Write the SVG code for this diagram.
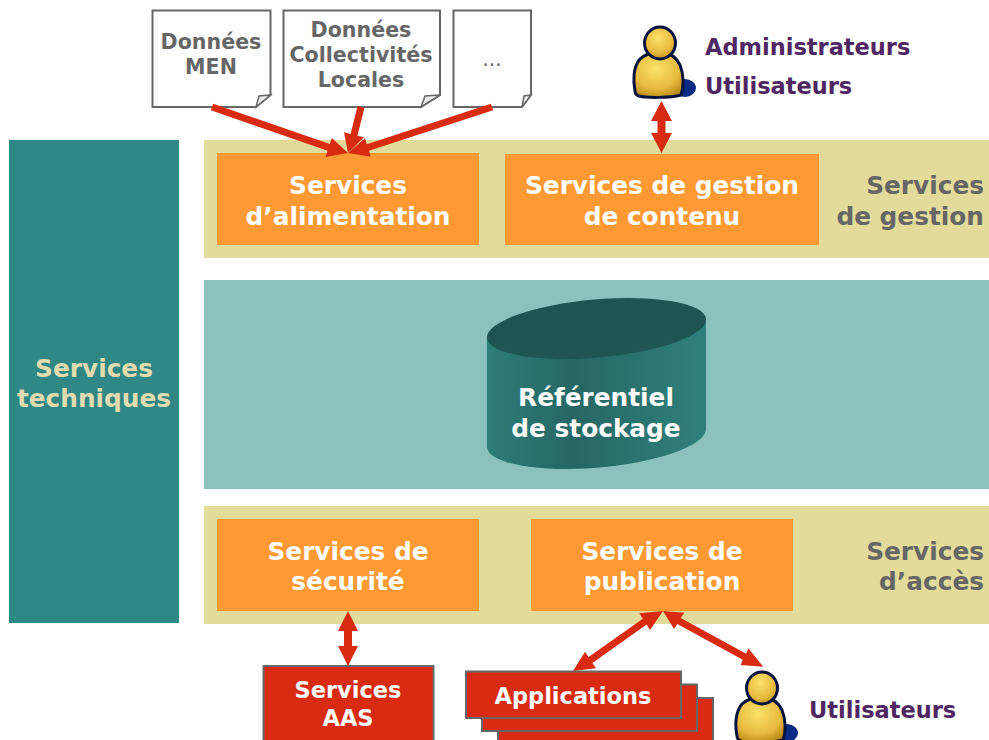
<svg xmlns="http://www.w3.org/2000/svg" width="989" height="740" viewBox="0 0 989 740">
<style>
text{font-family:"DejaVu Sans","Liberation Sans",sans-serif;font-weight:bold;text-anchor:middle}
.band{fill:#e3db99}.or{fill:#ff9933}
.w{font-size:24.800px;fill:#fff}
.g{font-size:24.800px;fill:#666}
.d{font-size:20.600px;fill:#666}
.p{font-size:22.500px;fill:#4f2763;text-anchor:start}
.r{fill:#d92b12;stroke:#666;stroke-width:2}
.wr{font-size:22.500px;fill:#fff}
.doc{fill:#fff;stroke:#666;stroke-width:2;stroke-linejoin:miter}
.fold{fill:#eee;stroke:#666;stroke-width:1.500}
.arrow{fill:#d92b12}
</style>
<defs>
<linearGradient id="cyl" x1="0" x2="1" y1="0" y2="0"><stop offset="0" stop-color="#2d7d79"/><stop offset="0.4" stop-color="#266764"/><stop offset="1" stop-color="#2f807d"/></linearGradient>
<radialGradient id="gold" cx="0.45" cy="0.35" r="0.7"><stop offset="0" stop-color="#fbe26a"/><stop offset="0.65" stop-color="#e8bb3e"/><stop offset="1" stop-color="#b98a18"/></radialGradient>
<g id="person">
<ellipse cx="25" cy="43" rx="11" ry="9" fill="#0b2a83"/>
<path d="M-25 46C-27 36-27 22-20 14C-15 9-9 8-3 8H3C10 8 16 12 20 20C24 30 24 42 21 50C10 53-14 53-21 51C-24 50-25 48-25 46Z" fill="url(#gold)" stroke="#04123f" stroke-width="3"/>
<ellipse cx="0" cy="-2" rx="15.500" ry="16" fill="url(#gold)" stroke="#04123f" stroke-width="3"/>
</g>
</defs>

<g id="background">
<rect class="band" x="204" y="140" width="785" height="118"/>
<rect x="204" y="280" width="785" height="209" fill="#8cc2be"/>
<rect class="band" x="204" y="506" width="785" height="118"/>
</g>

<g id="services-techniques">
<rect x="9" y="140" width="170" height="483" fill="#2f8885"/>
<text x="94" y="377" class="g" style="fill:#e0dcb0">Services</text>
<text x="94" y="407" class="g" style="fill:#e0dcb0">techniques</text>
</g>

<g id="label-gestion"><text x="984" y="194" class="g" style="text-anchor:end">Services</text><text x="984" y="225" class="g" style="text-anchor:end">de gestion</text></g>
<g id="label-acces"><text x="984" y="560" class="g" style="text-anchor:end">Services</text><text x="984" y="590" class="g" style="text-anchor:end">d’accès</text></g>

<g id="services-alimentation">
<rect class="or" x="217" y="153" width="262" height="92"/>
<text x="348" y="194" class="w">Services</text><text x="348" y="225" class="w">d’alimentation</text>
</g>
<g id="services-contenu">
<rect class="or" x="505" y="154" width="314" height="91"/>
<text x="662" y="194" class="w">Services de gestion</text><text x="662" y="225" class="w">de contenu</text>
</g>
<g id="services-securite">
<rect class="or" x="217" y="519" width="262" height="92"/>
<text x="348" y="560" class="w">Services de</text><text x="348" y="590" class="w">sécurité</text>
</g>
<g id="services-publication">
<rect class="or" x="531" y="519" width="262" height="92"/>
<text x="662" y="560" class="w">Services de</text><text x="662" y="590" class="w">publication</text>
</g>

<g id="referentiel">
<path d="M487 338V448A110 30 -5 0 0 706 430V320Z" fill="url(#cyl)"/>
<ellipse cx="596.500" cy="328.500" rx="110" ry="29" transform="rotate(-5 596.500 328.500)" fill="#1e5451"/>
<text x="596" y="406" class="w">Référentiel</text><text x="596" y="437" class="w">de stockage</text>
</g>

<g id="doc-men">
<path class="doc" d="M152.500 10.500H270.500V95L256 107H152.500Z"/>
<path class="fold" d="M256 107L259 96L270.500 95Z"/>
<text x="211" y="49" class="d">Données</text><text x="211" y="74" class="d">MEN</text>
</g>
<g id="doc-collectivites">
<path class="doc" d="M283.500 10.500H440V95L421 107H283.500Z"/>
<path class="fold" d="M421 107L425 96L440 95Z"/>
<text x="361" y="37" class="d">Données</text><text x="361" y="62" class="d">Collectivités</text><text x="361" y="87" class="d">Locales</text>
</g>
<g id="doc-autres">
<path class="doc" d="M453.500 10.500H531V95L522 107H453.500Z"/>
<path class="fold" d="M522 107L524 96L531 95Z"/>
<text x="492" y="66" class="d" style="font-weight:normal">...</text>
</g>

<g id="administrateurs">
<use href="#person" x="660" y="45"/>
<text x="705" y="55" class="p">Administrateurs</text>
<text x="705" y="94" class="p">Utilisateurs</text>
</g>
<g id="utilisateurs">
<use href="#person" x="762" y="690"/>
<text x="809" y="718" class="p">Utilisateurs</text>
</g>

<g id="services-aas">
<rect class="r" x="263.500" y="666" width="170" height="80"/>
<text x="348" y="698" class="wr">Services</text><text x="348" y="726" class="wr">AAS</text>
</g>
<g id="applications">
<rect class="r" x="498" y="698" width="215" height="50"/>
<rect class="r" x="482" y="684.500" width="215" height="46.500"/>
<rect class="r" x="466" y="671.500" width="215" height="46.500"/>
<text x="573" y="704" class="wr">Applications</text>
</g>

<g id="connectors">
<path class="arrow" d="M213.100 103.700L329.800 144.100L331.900 137.900L348 153L325.500 156.900L327.600 150.700L210.900 110.300Z"/>
<path class="arrow" d="M357.600 106L350.600 133.900L344 132.300L348 153L364 137.300L357.400 135.800L364.400 108Z"/>
<path class="arrow" d="M490.900 103.700L366.800 144.200L365 138.300L348 153L370.700 156.700L369 150.800L493.100 110.300Z"/>
<path class="arrow" d="M661.500 101L672 121H665.500V133H672L661.500 153L651 133H657.500V121H651Z"/>
<path class="arrow" d="M348 611L358 631H352V646H358L348 666L338 646H344V631H338Z"/>
<path class="arrow" d="M663 611L650 630L646.600 624.600L592.400 662.900L596 668.300L573 671L585 651.700L588.600 657.100L642.800 618.800L639.300 613.300Z"/>
<path class="arrow" d="M663 611L684.300 612.700L680.700 618L746.200 653.700L748.300 648.300L763.300 666.700L740.700 665L742.800 659.700L677.300 624L674 629Z"/>
</g>
</svg>
